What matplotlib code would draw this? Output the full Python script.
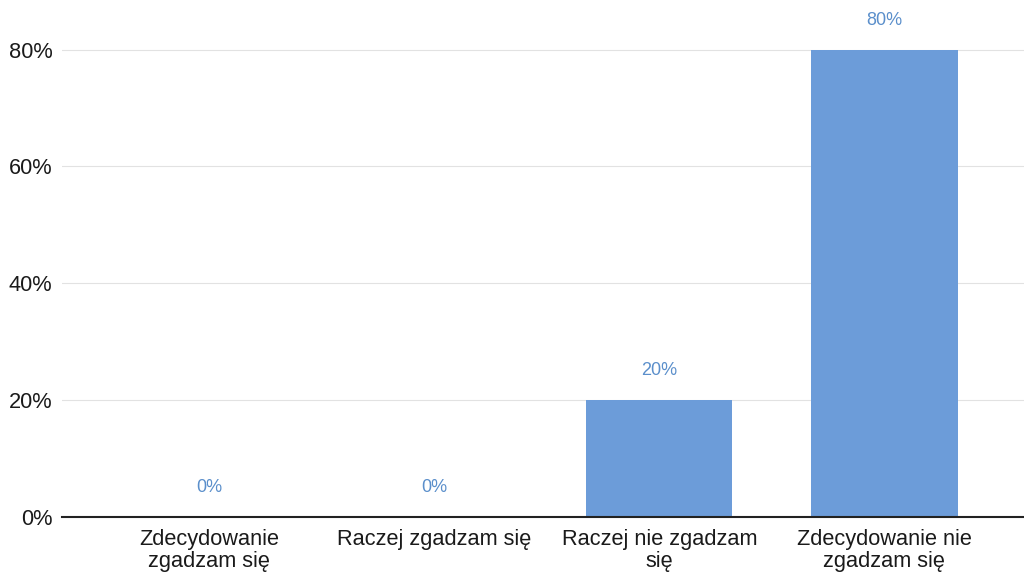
import numpy as np
import matplotlib.pyplot as plt

# answers and share of respondents (%)
categories = ["Zdecydowanie\nzgadzam się", "Raczej zgadzam się",
              "Raczej nie zgadzam\nsię", "Zdecydowanie nie\nzgadzam się"]
shares = [0, 0, 20, 80]
value_labels = ["0%", "0%", "20%", "80%"]
y_ticks = [0, 20, 40, 60, 80]
y_tick_labels = ["0%", "20%", "40%", "60%", "80%"]

bar_color = "#6c9cd9"
label_color = "#5b8fcb"

plt.rcParams['font.family'] = ['Liberation Sans', 'DejaVu Sans']

fig = plt.figure(figsize=(10.24, 5.73), dpi=100)
ax = fig.add_axes([62 / 1024, 56 / 573, 1 - 62 / 1024, 517 / 573])

x = np.arange(len(categories))
ax.bar(x, shares, width=0.65, color=bar_color, zorder=3)

# value labels above the bars
for xi, v, lab in zip(x, shares, value_labels):
    ax.annotate(lab, (xi, v), xytext=(0, 21), textcoords="offset points",
                ha="center", va="center", fontsize=13, color=label_color)

ax.set_xlim(-0.653, 3.62)
ax.set_ylim(0, 88.5)
ax.set_xticks(x)
ax.set_xticklabels(categories, fontsize=15.7, color="#1a1a1a", linespacing=1.0)
ax.set_yticks(y_ticks)
ax.set_yticklabels(y_tick_labels, fontsize=15.7, color="#1a1a1a")
ax.tick_params(axis="both", length=0)
ax.tick_params(axis="y", pad=7)
ax.tick_params(axis="x", pad=9)

ax.grid(axis="y", color="#e2e2e2", linewidth=0.8, zorder=0)
for side in ["top", "right", "left"]:
    ax.spines[side].set_visible(False)
ax.spines["bottom"].set_color("#222222")
ax.spines["bottom"].set_linewidth(1.5)
ax.spines["bottom"].set_zorder(4)

fig.savefig("out.png", dpi=100)
